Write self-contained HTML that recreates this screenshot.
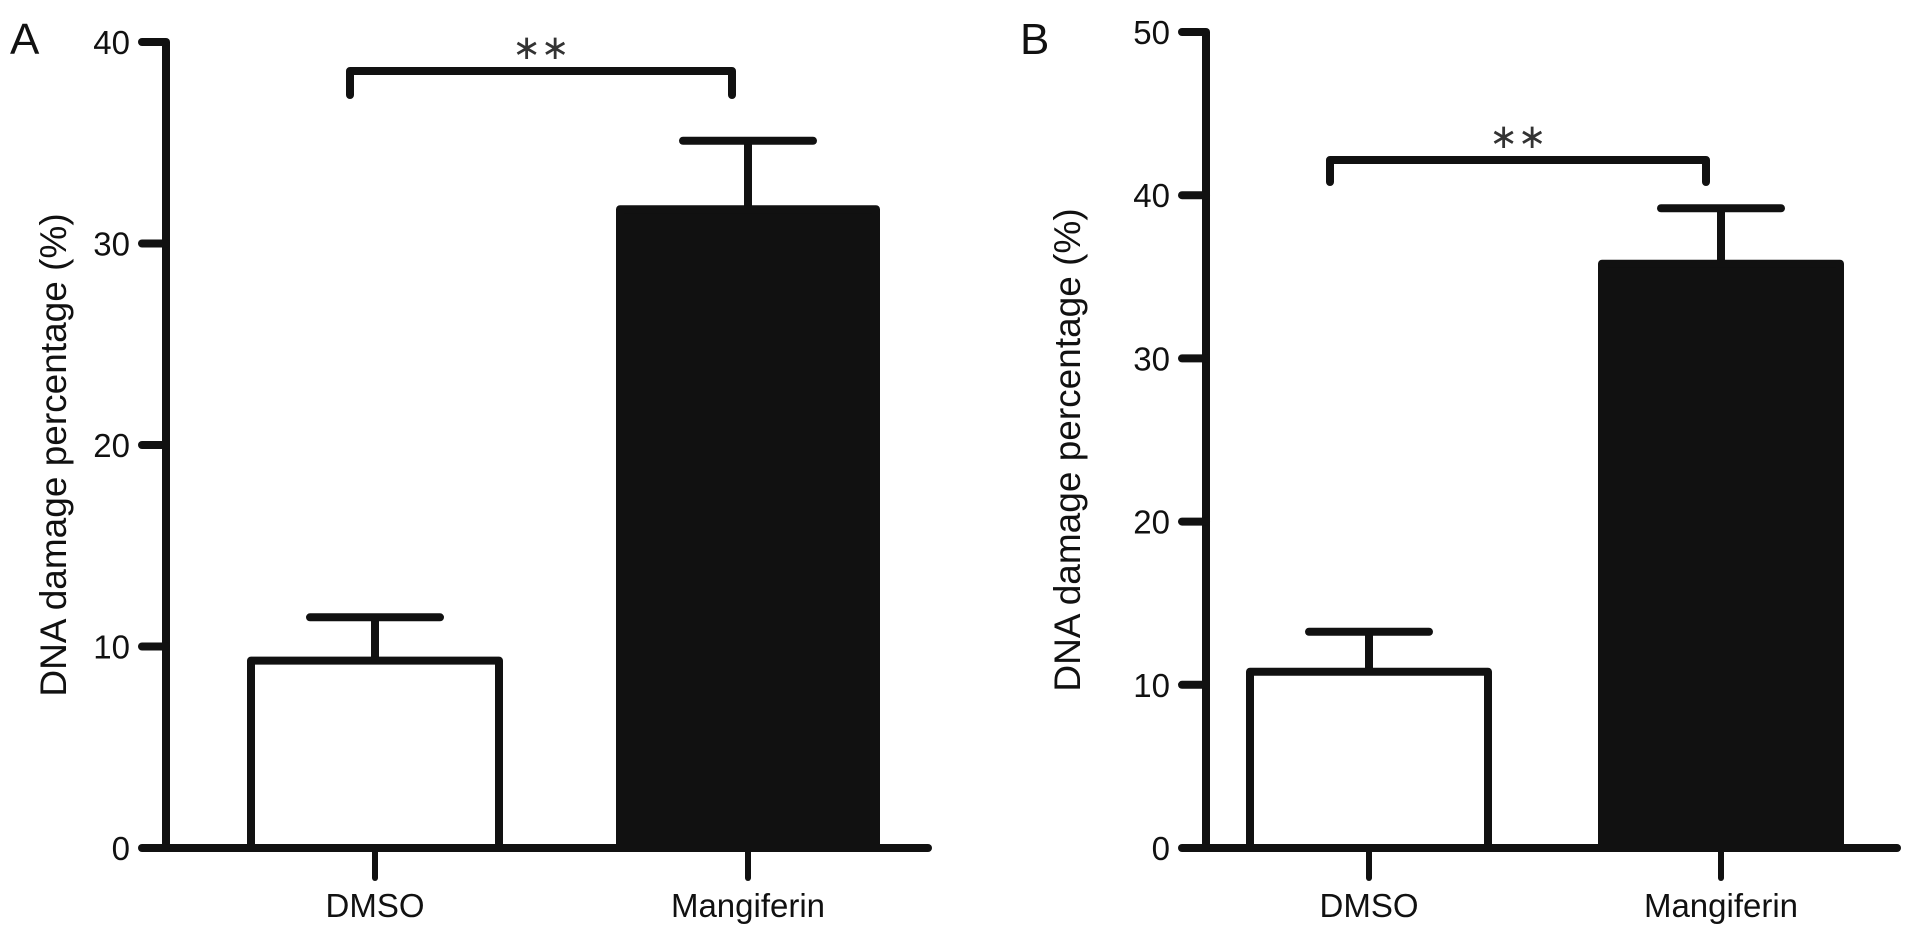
<!DOCTYPE html>
<html><head><meta charset="utf-8"><style>
html,body{margin:0;padding:0;background:#fff;}
svg{display:block;font-family:"Liberation Sans",Arial,sans-serif;}
</style></head><body>
<svg id="fig" width="1913" height="937" viewBox="0 0 1913 937"></svg>
<script>
const categories = ["DMSO", "Mangiferin"];
const valuesA = [9.3, 31.7];
const errorsA = [11.45, 35.1];
const valuesB = [10.8, 35.8];
const errorsB = [13.25, 39.2];
const ticksA = [0, 10, 20, 30, 40];
const ticksB = [0, 10, 20, 30, 40, 50];

const NS = "http://www.w3.org/2000/svg";
const svg = document.getElementById("fig");
function mk(tag, attrs, parent, text) {
  const e = document.createElementNS(NS, tag);
  for (const k in attrs) e.setAttribute(k, attrs[k]);
  if (text !== undefined) e.textContent = text;
  (parent || svg).appendChild(e);
  return e;
}

function panel(cfg) {
  const g = mk("g", {});
  
  
  const y = v => cfg.y0 - (v / cfg.max) * (cfg.y0 - cfg.yTop);
  const sw = 8;
  const L = mk("text", {x: cfg.letterX, y: 54, "font-size": 44, fill: "#111"}, g, cfg.id);
  
  
  categories.forEach((c, i) => {
    const x0 = cfg.barL[i], x1 = cfg.barR[i];
    const cx = (x0 + x1) / 2;
    const top = y(cfg.vals[i]);
    const err = y(cfg.errs[i]);
    const eg = mk("g", {}, g);
    
    
    mk("line", {x1: cx, x2: cx, y1: top, y2: err, stroke: "#111", "stroke-width": sw}, eg);
    mk("line", {x1: cx - cfg.capW, x2: cx + cfg.capW, y1: err, y2: err, stroke: "#111", "stroke-width": sw, "stroke-linecap": "round"}, eg);
    const b = mk("rect", {x: x0, y: top, width: x1 - x0, height: cfg.y0 - top,
      fill: i === 0 ? "#fff" : "#111", stroke: "#111", "stroke-width": sw, "stroke-linejoin": "round"}, g);
    
    
    const xt = mk("line", {x1: cx, x2: cx, y1: cfg.y0, y2: cfg.y0 + 30, stroke: "#111", "stroke-width": 6, "stroke-linecap": "round"}, g);
    
    
    const t = mk("text", {x: cx, y: 917, "font-size": 33, "text-anchor": "middle", fill: "#111"}, g, c);
    
    
  });
  const ya = mk("line", {x1: cfg.axisX, x2: cfg.axisX, y1: cfg.yTop, y2: cfg.y0, stroke: "#111", "stroke-width": sw}, g);
  
  
  const xa = mk("line", {x1: cfg.xStart, x2: cfg.xEnd, y1: cfg.y0, y2: cfg.y0, stroke: "#111", "stroke-width": sw, "stroke-linecap": "round"}, g);
  
  
  cfg.ticks.forEach(v => {
    const ty = y(v);
    const tl = mk("line", {x1: cfg.axisX - 24, x2: cfg.axisX, y1: ty, y2: ty, stroke: "#111", "stroke-width": sw, "stroke-linecap": "round"}, g);
    
    
    const tt = mk("text", {x: cfg.axisX - 36, y: ty + 12, "font-size": 33, "text-anchor": "end", fill: "#111"}, g, String(v));
    
    
  });
  const ty = mk("text", {x: 0, y: 0, "font-size": 37, "text-anchor": "middle", fill: "#111",
    transform: `translate(${cfg.titleX},${(cfg.yTop + cfg.y0) / 2 + 10}) rotate(-90)`}, g, "DNA damage percentage (%)");
  
  
  const br = mk("path", {d: `M${cfg.brL},${cfg.brBot} V${cfg.brY} H${cfg.brR} V${cfg.brBot}`,
    fill: "none", stroke: "#111", "stroke-width": sw, "stroke-linecap": "round", "stroke-linejoin": "round"}, g);
  
  
  const st = mk("text", {x: (cfg.brL + cfg.brR) / 2, y: cfg.brY - 12, "font-size": 34, "text-anchor": "middle", fill: "#333", "font-family": "DejaVu Sans, sans-serif"}, g, "∗∗");
  
  
}

panel({id: "A", vals: valuesA, errs: errorsA, ticks: ticksA, max: 40,
  y0: 848, yTop: 42, axisX: 166, xStart: 152, xEnd: 928,
  barL: [251, 620], barR: [499, 876], capW: 65,
  letterX: 10, titleX: 66, brL: 350, brR: 732, brY: 71, brBot: 95});
panel({id: "B", vals: valuesB, errs: errorsB, ticks: ticksB, max: 50,
  y0: 848, yTop: 32, axisX: 1206, xStart: 1190, xEnd: 1897,
  barL: [1250, 1602], barR: [1488, 1840], capW: 60,
  letterX: 1020, titleX: 1080, brL: 1330, brR: 1706, brY: 160, brBot: 182});
</script>
</body></html>
